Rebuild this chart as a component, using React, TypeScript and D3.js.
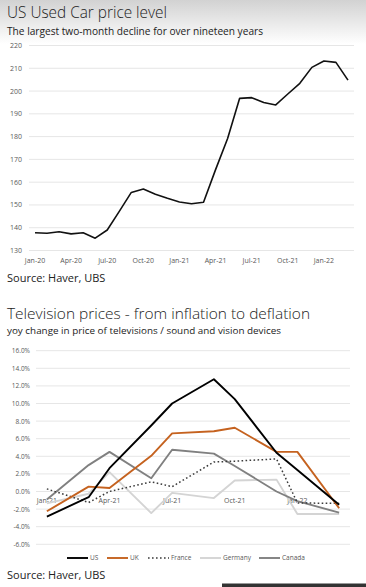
import React from "react";
import * as d3 from "d3";

// ---------- Chart 1 data ----------
const carMonths = [
  "Jan-20","Feb-20","Mar-20","Apr-20","May-20","Jun-20","Jul-20","Aug-20","Sep-20","Oct-20","Nov-20","Dec-20",
  "Jan-21","Feb-21","Mar-21","Apr-21","May-21","Jun-21","Jul-21","Aug-21","Sep-21","Oct-21","Nov-21","Dec-21",
  "Jan-22","Feb-22","Mar-22",
];
const carValues = [
  137.8, 137.6, 138.2, 137.3, 137.8, 135.4, 139.0, 147.2, 155.5, 157.0, 154.7, 152.9,
  151.3, 150.5, 151.2, 165.5, 179.2, 196.8, 197.1, 195.0, 193.9, 198.7, 203.4, 210.4,
  213.2, 212.6, 204.8,
];
const carTicks = [130, 140, 150, 160, 170, 180, 190, 200, 210, 220];
const carXLabels = ["Jan-20","Apr-20","Jul-20","Oct-20","Jan-21","Apr-21","Jul-21","Oct-21","Jan-22"];

// ---------- Chart 2 data ----------
const tvMonths = [
  "Jan-21","Feb-21","Mar-21","Apr-21","May-21","Jun-21","Jul-21","Aug-21","Sep-21","Oct-21","Nov-21","Dec-21",
  "Jan-22","Feb-22","Mar-22",
];
const tvObsMonths = ["Jan-21","Mar-21","Apr-21","Jun-21","Jul-21","Sep-21","Oct-21","Dec-21","Jan-22","Mar-22"];
const usValues      = [-2.85, -0.65, 2.65, 7.5, 10.0, 12.75, 10.5, 4.4, 2.45, -1.5];
const ukValues      = [-2.25, 0.55, 0.4, 4.05, 6.6, 6.85, 7.25, 4.5, 4.5, -1.9];
const franceValues  = [0.3, -1.25, 0.0, 1.1, 0.55, 3.35, 3.45, 3.7, -1.3, -1.35];
const germanyValues = [-1.35, -0.25, 2.2, -2.45, -0.15, -0.75, 1.25, 1.35, -2.55, -2.55];
const canadaValues  = [-0.9, 3.0, 4.5, 1.5, 4.75, 4.3, 2.9, 0.0, -1.1, -2.4];
const tvTicks = [-6, -4, -2, 0, 2, 4, 6, 8, 10, 12, 14, 16];
const tvXLabels = ["Jan-21","Apr-21","Jul-21","Oct-21","Jan-22"];
const seriesNames = ["US", "UK", "France", "Germany", "Canada"];
const seriesValues = [usValues, ukValues, franceValues, germanyValues, canadaValues];
const seriesColors = ["#000000", "#c5621f", "#3a3a3a", "#d4d4d4", "#808080"];
const seriesDash = [null, null, "1.6 2.4", null, null];

const FONT = "'Open Sans', 'Noto Sans', sans-serif";

export default function App() {
  // Chart 1 scales
  const x1 = d3.scaleBand<string>().domain(carMonths).range([29, 354]).padding(0);
  const y1 = d3.scaleLinear().domain([130, 220]).range([250.5, 45.5]);
  const cx1 = (m: string) => (x1(m) as number) + x1.bandwidth() / 2;
  const line1 = d3.line<number>()
    .x((_, i) => cx1(carMonths[i]))
    .y((d) => y1(d));

  // Chart 2 scales
  const x2 = d3.scalePoint<string>().domain(tvMonths).range([36, 350]).padding(0.52);
  const y2 = d3.scaleLinear().domain([-6, 16]).range([544.3, 350.7]);
  const line2 = d3.line<number>()
    .x((_, i) => x2(tvObsMonths[i]) as number)
    .y((d) => y2(d));

  const legendX = [67, 107, 148, 200, 259];

  return (
    <svg width={366} height={587} style={{ position: "absolute", left: 0, top: 0, background: "#fff" }}>
      <defs>
        <linearGradient id="topg" x1="0" y1="0" x2="0" y2="1">
          <stop offset="0" stopColor="#d2d2d2" />
          <stop offset="1" stopColor="#ffffff" />
        </linearGradient>
      </defs>
      <rect x={0} y={0} width={366} height={587} fill="#fff" />
      <rect x={0} y={0} width={366} height={44} fill="url(#topg)" />

      {/* Chart 1 */}
      <text x={7} y={18.3} fontFamily={FONT} fontSize={15.5} fontWeight={300} fill="#222" textLength={160} lengthAdjust="spacingAndGlyphs">US Used Car price level</text>
      <text x={7} y={35} fontFamily={FONT} fontSize={10.3} fill="#222" textLength={256} lengthAdjust="spacingAndGlyphs">The largest two-month decline for over nineteen years</text>
      {carTicks.map((t) => (
        <g key={t}>
          <line x1={29} x2={354} y1={y1(t)} y2={y1(t)} stroke="#e6e6e6" strokeWidth={1} />
          <text x={22} y={y1(t) + 2.5} textAnchor="end" fontFamily={FONT} fontSize={7} fill="#595959">{t}</text>
        </g>
      ))}
      {carXLabels.map((m) => (
        <text key={m} x={cx1(m)} y={263} textAnchor="middle" fontFamily={FONT} fontSize={7} fill="#595959">{m}</text>
      ))}
      <path d={line1(carValues) as string} fill="none" stroke="#111" strokeWidth={1.6} strokeLinejoin="round" />
      <text x={7} y={282} fontFamily={FONT} fontSize={11} fill="#222">Source: Haver, UBS</text>

      {/* Chart 2 */}
      <text x={7} y={319} fontFamily={FONT} fontSize={15} fontWeight={300} fill="#222" textLength={303} lengthAdjust="spacingAndGlyphs">Television prices - from inflation to deflation</text>
      <text x={7} y={334} fontFamily={FONT} fontSize={9.8} fill="#222" textLength={274} lengthAdjust="spacingAndGlyphs">yoy change in price of televisions / sound and vision devices</text>
      {tvTicks.map((t) => (
        <g key={t}>
          <line x1={36} x2={350} y1={y2(t)} y2={y2(t)} stroke="#e6e6e6" strokeWidth={1} />
          <text x={30} y={y2(t) + 2.5} textAnchor="end" fontFamily={FONT} fontSize={6.5} fill="#595959">{t.toFixed(1) + "%"}</text>
        </g>
      ))}
      {tvXLabels.map((m) => (
        <text key={m} x={x2(m) as number} y={503} textAnchor="middle" fontFamily={FONT} fontSize={7} fill="#595959">{m}</text>
      ))}
      {[3, 4, 2, 1, 0].map((i) => (
        <path key={seriesNames[i]} d={line2(seriesValues[i]) as string} fill="none"
          stroke={seriesColors[i]} strokeWidth={i === 2 ? 1.5 : 1.9}
          strokeDasharray={seriesDash[i] ?? undefined} strokeLinejoin="round" />
      ))}
      {seriesNames.map((n, i) => (
        <g key={n}>
          <line x1={legendX[i]} x2={legendX[i] + 21} y1={558} y2={558} stroke={seriesColors[i]}
            strokeWidth={i === 2 ? 1.5 : 1.9} strokeDasharray={seriesDash[i] ?? undefined} />
          <text x={legendX[i] + 23} y={560.3} fontFamily={FONT} fontSize={6.5} fill="#595959">{n}</text>
        </g>
      ))}
      <text x={7} y={579} fontFamily={FONT} fontSize={11} fill="#222">Source: Haver, UBS</text>
      <rect x={222} y={583.5} width={144} height={4} fill="#333" />
    </svg>
  );
}
